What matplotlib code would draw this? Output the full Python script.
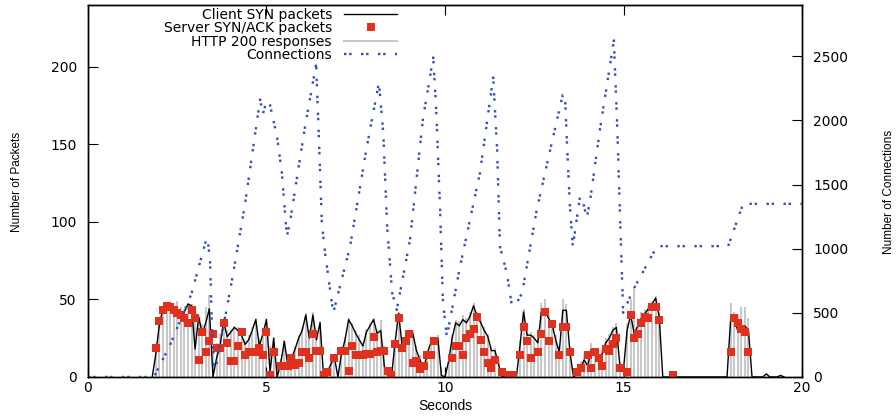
import numpy as np
import matplotlib.pyplot as plt
from matplotlib.lines import Line2D

# 0.1 s bins starting at t = 1.8 s (rows of 10 bins = 1 second)
t_start = 1.8
syn_packets = [
    0, 15, 34, 44, 46, 45, 43, 42, 41, 42,
    47, 46, 18, 39, 28, 35, 44, 0, 12, 20,
    36, 26, 29, 32, 30, 27, 21, 24, 30, 37,
    20, 28, 37, 3, 25, 0, 9, 23, 7, 12,
    18, 25, 30, 40, 25, 40, 24, 35, 0, 3,
    8, 13, 0, 15, 24, 37, 33, 28, 24, 20,
    29, 33, 37, 28, 30, 7, 0, 0, 22, 41,
    20, 25, 26, 28, 17, 11, 5, 15, 22, 24,
    25, 1, 0, 10, 25, 35, 33, 37, 35, 39,
    46, 39, 35, 30, 26, 17, 17, 8, 0, 0,
    0, 0, 0, 20, 42, 27, 27, 25, 22, 42,
    42, 38, 34, 24, 16, 43, 43, 16, 0, 2,
    6, 11, 7, 18, 16, 11, 15, 22, 25, 30,
    32, 7, 5, 30, 40, 28, 33, 38, 41, 44,
    47, 51, 39, 0, 0, 0, 0, 0, 0, 0,
    0, 0, 0, 0, 0, 0, 0, 0, 0, 0,
    0, 0, 37, 37, 30, 33, 33, 30, 0, 0,
    0, 0, 2, 0, 0, 0, 1, 0,
]
synack_packets = [
    0, 19, 36, 43, 46, 45, 43, 41, 40, 38,
    35, 43, 38, 11, 29, 16, 23, 28, 19, 19,
    35, 22, 10, 10, 20, 29, 14, 16, 16, 16,
    19, 14, 29, 1, 16, 0, 7, 7, 7, 12,
    8, 9, 16, 16, 12, 28, 17, 17, 1, 3,
    0, 12, 0, 17, 17, 4, 20, 14, 14, 14,
    15, 15, 26, 16, 17, 17, 4, 1, 21, 38,
    19, 23, 28, 9, 10, 5, 7, 14, 14, 23,
    0, 0, 0, 0, 12, 20, 20, 14, 25, 28,
    31, 39, 24, 16, 9, 6, 11, 0, 3, 0,
    1, 1, 0, 14, 32, 23, 12, 0, 16, 28,
    42, 23, 34, 0, 14, 32, 32, 16, 0, 3,
    6, 0, 14, 6, 16, 12, 7, 18, 17, 21,
    25, 6, 0, 3, 40, 25, 28, 35, 39, 38,
    45, 45, 37, 0, 0, 0, 1, 0, 0, 0,
    0, 0, 0, 0, 0, 0, 0, 0, 0, 0,
    0, 0, 16, 38, 35, 31, 29, 16, 0, 0,
    0, 0, 0, 0, 0, 0, 0, 0,
]
http_200 = [
    0, 18, 38, 44, 47, 48, 46, 49, 45, 44,
    48, 47, 40, 38, 34, 45, 53, 20, 22, 28,
    38, 30, 30, 33, 32, 30, 24, 27, 32, 38,
    25, 30, 38, 20, 26, 5, 12, 24, 12, 15,
    20, 27, 32, 41, 28, 42, 27, 36, 5, 6,
    10, 15, 3, 20, 26, 38, 35, 30, 27, 22,
    31, 35, 38, 30, 37, 20, 5, 6, 24, 42,
    24, 28, 30, 30, 20, 14, 9, 17, 24, 26,
    27, 5, 2, 14, 28, 37, 36, 40, 38, 42,
    48, 42, 37, 32, 28, 20, 19, 10, 4, 2,
    2, 2, 3, 24, 44, 30, 29, 27, 26, 48,
    50, 40, 36, 27, 20, 50, 47, 20, 3, 6,
    10, 15, 16, 22, 19, 14, 18, 25, 28, 32,
    35, 10, 8, 35, 50, 58, 38, 42, 44, 46,
    49, 52, 42, 0, 0, 0, 0, 0, 0, 0,
    0, 0, 0, 0, 0, 0, 0, 0, 0, 0,
    0, 0, 48, 42, 40, 45, 45, 38, 0, 0,
    0, 0, 0, 0, 0, 0, 0, 0,
]

# open connections (read at the turning points of the curve)
conn_time = [0, 1.85, 2.3, 2.9, 3.3, 3.35, 3.42, 3.47, 3.53, 3.6, 3.7, 4.0, 4.4,
             4.82, 4.9, 5.0, 5.1, 5.3, 5.43, 5.57, 5.66, 6.08, 6.39, 6.45, 6.55,
             6.64, 6.87, 7.34, 7.81, 8.15, 8.27, 8.38, 8.52, 8.65, 9.02, 9.38,
             9.67, 9.75, 9.86, 9.94, 10.05, 10.42, 10.98, 11.35, 11.46, 11.54,
             11.73, 11.87, 12.0, 12.16, 12.57, 13.03, 13.3, 13.36, 13.42, 13.5,
             13.58, 13.78, 13.87, 13.97, 14.06, 14.34, 14.73, 14.82, 14.9, 14.99,
             15.27, 15.94, 17.93, 18.35, 20]
conn_count = [0, 0, 250, 650, 1060, 1080, 900, 400, 90, 100, 260, 700, 1350,
              2163, 2050, 2150, 2120, 1866, 1593, 1093, 1210, 1953, 2437, 2000, 1203,
              968, 500, 1015, 1796, 2296, 1906, 1171, 656, 523, 1070, 2007,
              2491, 2109, 1328, 601, 312, 859, 1593, 2335, 1773, 1015,
              812, 562, 570, 656, 1304, 1874, 2200, 2200, 1796, 1328,
              1015, 1406, 1359, 1242, 1367, 1929, 2624, 1984, 1281, 500,
              680, 1020, 1020, 1350, 1350]

plt.rcParams['font.family'] = ['DejaVu Sans']
narrow = ['DejaVu Sans Condensed', 'Liberation Sans Narrow', 'Liberation Sans']

t = np.round(t_start + 0.1 * np.arange(len(syn_packets)), 1)
synack = np.array(synack_packets, dtype=float)
shown = synack > 0

fig = plt.figure(figsize=(8.96, 4.16), dpi=100)
ax = fig.add_axes([0.0982, 0.0938, 0.7969, 0.8942])
ax2 = ax.twinx()

ax.vlines(t, 0, http_200, colors='#c8c8c8', linewidth=1.5, zorder=1)
ax.plot(t, syn_packets, color='black', linewidth=1.0, zorder=2)
ax.plot(t[shown], synack[shown], 's', color='#e0301e', markersize=5.2,
        markeredgewidth=0, zorder=3)
conn_style = (0, (1, 1.2, 1, 4))
ax2.plot(conn_time, conn_count, color='#2f4fb5', linewidth=1.7,
         linestyle=conn_style)

ax.set_xlim(0, 20)
ax.set_ylim(0, 240)
ax2.set_ylim(0, 2900)
ax.set_xticks([0, 5, 10, 15, 20])
ax.set_yticks([0, 50, 100, 150, 200])
ax2.set_yticks([0, 500, 1000, 1500, 2000, 2500])

ax.tick_params(axis='x', direction='in', top=True, length=7, labelsize=10, pad=3)
ax.tick_params(axis='y', direction='in', length=7, labelsize=10, pad=8)
ax2.tick_params(axis='y', direction='in', length=7, labelsize=10, pad=8)
for a in (ax, ax2):
    for s in a.spines.values():
        s.set_linewidth(1.0)

ax.set_xlabel('Seconds', fontsize=10, family=['Liberation Sans', 'DejaVu Sans'])
ax.set_ylabel('Number of Packets', fontsize=8.5, family=narrow)
ax2.set_ylabel('Number of Connections', fontsize=8.5, family=narrow)
ax.xaxis.set_label_coords(0.5, -0.06)
ax.yaxis.set_label_coords(-0.091, 0.524)
ax2.yaxis.set_label_coords(1.114, 0.497)

handles = [
    Line2D([], [], color='black', linewidth=1.0),
    Line2D([], [], marker='s', linestyle='none', color='#e0301e',
           markersize=5.2, markeredgewidth=0),
    Line2D([], [], color='#c8c8c8', linewidth=1.5),
    Line2D([], [], color='#2f4fb5', linewidth=1.7, linestyle=conn_style),
]
labels = ['Client SYN packets', 'Server SYN/ACK packets',
          'HTTP 200 responses', 'Connections']
ax2.legend(handles, labels, loc='upper right', bbox_to_anchor=(0.437, 1.0),
           frameon=False, markerfirst=False, fontsize=10, handlelength=3.8,
           handletextpad=0.9, labelspacing=-0.04, borderaxespad=0.2,
           borderpad=0.0)

fig.savefig('out.png', dpi=100)
